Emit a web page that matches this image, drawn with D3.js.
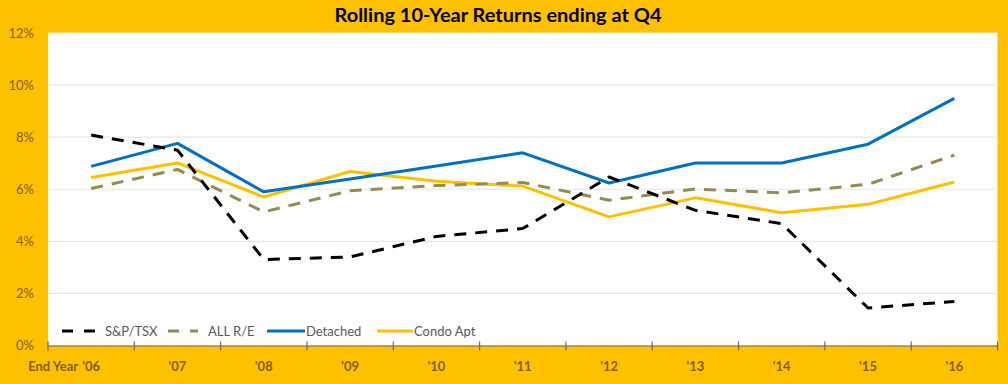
<!DOCTYPE html>
<html><head><meta charset="utf-8">
<script src="https://cdn.jsdelivr.net/npm/d3@7"></script>
<style>
html,body{margin:0;padding:0;background:#FFC000;}
svg{display:block;font-family:Lato,"Open Sans",sans-serif;}
</style></head>
<body>
<svg id="chart" width="1008" height="384"></svg>
<script>
const categories = ["'06","'07","'08","'09","'10","'11","'12","'13","'14","'15","'16"];
const spTsx    = [8.08, 7.50, 3.30, 3.40, 4.19, 4.49, 6.47, 5.19, 4.68, 1.44, 1.69];
const allRE    = [6.03, 6.76, 5.13, 5.94, 6.14, 6.26, 5.58, 6.01, 5.86, 6.19, 7.31];
const detached = [6.88, 7.76, 5.90, 6.39, 6.89, 7.40, 6.24, 7.01, 7.01, 7.73, 9.49];
const condo    = [6.45, 7.01, 5.70, 6.68, 6.31, 6.12, 4.94, 5.67, 5.10, 5.42, 6.28];
const yTicks = [0, 2, 4, 6, 8, 10, 12];
const seriesNames = ["S&P/TSX", "ALL R/E", "Detached", "Condo Apt"];
const titleText = "Rolling 10-Year Returns ending at Q4";

const series = [
  {name: seriesNames[0], values: spTsx, color: "#000000", dash: "12,9"},
  {name: seriesNames[1], values: allRE, color: "#948A54", dash: "12,9"},
  {name: seriesNames[2], values: detached, color: "#0070C0", dash: null},
  {name: seriesNames[3], values: condo, color: "#FFC000", dash: null}
];

const svg = d3.select("#chart");
const pLeft = 48, pRight = 997.5, pTop = 33, pBottom = 345.5;
const labelColor = "#7F6000";

const x = d3.scaleBand().domain(categories).range([pLeft, pRight]).padding(0);
const y = d3.scaleLinear().domain([0, 12]).range([pBottom, pTop]);
const cx = c => x(c) + x.bandwidth() / 2;

// plot area
svg.append("rect").attr("x", pLeft).attr("y", pTop)
  .attr("width", pRight - pLeft).attr("height", pBottom - pTop).attr("fill", "#ffffff");

// gridlines
svg.append("g").selectAll("line").data(yTicks.filter(t => t > 0)).join("line")
  .attr("x1", pLeft).attr("x2", pRight)
  .attr("y1", d => y(d)).attr("y2", d => y(d))
  .attr("stroke", "#E6E6E6").attr("stroke-width", 1.2);

// y labels
svg.append("g").selectAll("text").data(yTicks).join("text")
  .attr("x", 34).attr("y", d => y(d)).attr("dy", "0.36em")
  .attr("text-anchor", "end").attr("font-size", 13).attr("fill", labelColor)
  .text(d => d + "%");

// x axis
const xAxis = d3.axisBottom(x).tickSize(0).tickFormat("");
const gx = svg.append("g").attr("transform", `translate(0,${pBottom})`).call(xAxis);
gx.select(".domain").attr("stroke", "#6E6A5A").attr("stroke-width", 1.2);
// boundary ticks
const bounds = categories.map(c => x(c)).concat([pRight]);
svg.append("g").selectAll("line").data(bounds).join("line")
  .attr("x1", d => d).attr("x2", d => d)
  .attr("y1", pBottom - 4).attr("y2", pBottom + 5)
  .attr("stroke", "#6E6A5A").attr("stroke-width", 1.2);

// x labels
svg.append("g").selectAll("text").data(categories).join("text")
  .attr("x", d => cx(d)).attr("y", 366).attr("dy", "0.35em")
  .attr("text-anchor", "middle").attr("font-size", 13).attr("font-weight", 700)
  .attr("fill", labelColor).text(d => d);
svg.append("text").attr("x", cx(categories[0]) - 13).attr("y", 366).attr("dy", "0.35em")
  .attr("text-anchor", "end").attr("font-size", 13).attr("font-weight", 700)
  .attr("fill", labelColor).text("End Year");

// lines
const line = d3.line().x((d, i) => cx(categories[i])).y(d => y(d));
const drawOrder = [3, 2, 1, 0];
svg.append("g").selectAll("path").data(drawOrder.map(i => series[i])).join("path")
  .attr("d", s => line(s.values))
  .attr("fill", "none").attr("stroke", s => s.color).attr("stroke-width", 3)
  .attr("stroke-dasharray", s => s.dash).attr("stroke-linejoin", "round");

// legend
const legendY = 331;
const legendPos = [{x1: 62, x2: 96, tx: 105}, {x1: 168, x2: 198, tx: 208}, {x1: 267, x2: 305, tx: 306}, {x1: 377, x2: 413, tx: 414}];
const lg = svg.append("g");
series.forEach((s, i) => {
  const p = legendPos[i];
  lg.append("line").attr("x1", p.x1).attr("x2", p.x2).attr("y1", legendY).attr("y2", legendY)
    .attr("stroke", s.color).attr("stroke-width", 3)
    .attr("stroke-dasharray", s.dash ? "11,11" : null);
  lg.append("text").attr("x", p.tx).attr("y", legendY).attr("dy", "0.36em")
    .attr("font-size", 13).attr("fill", "#595959").text(s.name);
});

// title
svg.append("text").attr("x", 498).attr("y", 22).attr("text-anchor", "middle")
  .attr("font-size", 18).attr("font-weight", 700).attr("fill", "#000")
  .attr("textLength", 327).attr("lengthAdjust", "spacingAndGlyphs")
  .text(titleText);
</script>
</body></html>
